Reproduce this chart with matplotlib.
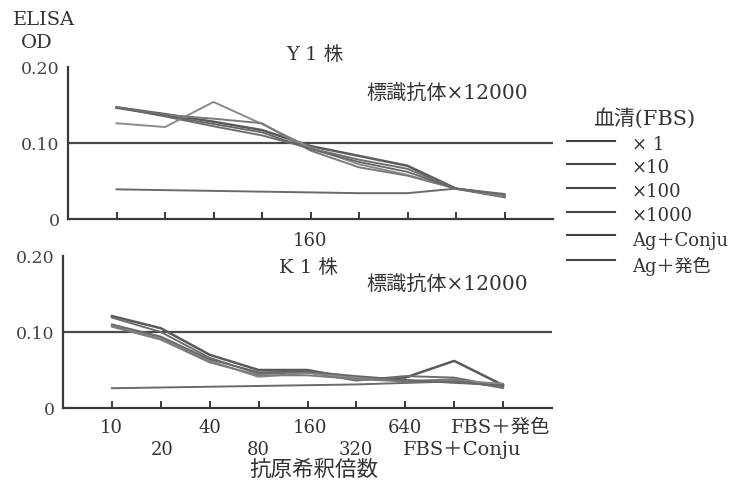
import matplotlib
matplotlib.use("Agg")
import matplotlib.pyplot as plt
from matplotlib.lines import Line2D

plt.rcParams['font.family'] = ['DejaVu Serif', 'Noto Sans CJK JP']

# Antigen dilution steps plus the two controls
x_labels = ["10", "20", "40", "80", "160", "320", "640", "FBS＋Conju", "FBS＋発色"]
series_names = ["× 1", "×10", "×100", "×1000", "Ag＋Conju", "Ag＋発色"]

# Y1 strain, labelled antibody ×12000
y1_x1 = [0.147, 0.138, 0.128, 0.117, 0.096, 0.083, 0.070, 0.040, 0.029]
y1_x10 = [0.147, 0.135, 0.122, 0.110, 0.093, 0.078, 0.066, 0.040, 0.031]
y1_x100 = [0.126, 0.121, 0.154, 0.125, 0.094, 0.072, 0.058, 0.040, 0.030]
y1_x1000 = [0.147, 0.137, 0.132, 0.126, 0.090, 0.068, 0.057, 0.040, 0.033]
y1_ag_conju = [0.146, 0.136, 0.125, 0.114, 0.092, 0.075, 0.062, 0.040, 0.032]
y1_ag_color = [0.039, 0.038, 0.037, 0.036, 0.035, 0.034, 0.034, 0.040, 0.032]

# K1 strain, labelled antibody ×12000
k1_x1 = [0.121, 0.105, 0.070, 0.050, 0.050, 0.038, 0.040, 0.062, 0.030]
k1_x10 = [0.119, 0.100, 0.066, 0.045, 0.047, 0.036, 0.042, 0.040, 0.028]
k1_x100 = [0.108, 0.092, 0.062, 0.041, 0.046, 0.040, 0.036, 0.036, 0.032]
k1_x1000 = [0.107, 0.090, 0.060, 0.043, 0.043, 0.038, 0.035, 0.038, 0.026]
k1_ag_conju = [0.110, 0.094, 0.064, 0.047, 0.048, 0.042, 0.037, 0.033, 0.030]
k1_ag_color = [0.026, 0.027, 0.028, 0.029, 0.030, 0.031, 0.033, 0.035, 0.028]

cutoff = 0.10

panels = [
    ("Y 1 株", [y1_x1, y1_x10, y1_x100, y1_x1000, y1_ag_conju, y1_ag_color]),
    ("K 1 株", [k1_x1, k1_x10, k1_x100, k1_x1000, k1_ag_conju, k1_ag_color]),
]
line_colors = ["#5a5a5a", "#6e6e6e", "#8a8a8a", "#7a7a7a", "#666666", "#6a6a6a"]
line_widths = [1.8, 1.4, 1.4, 1.4, 1.3, 1.4]

W, H = 744, 485
fig = plt.figure(figsize=(W / 100, H / 100), dpi=100)

axes_px = [
    (68, 553, 68, 220),   # left, right, top, bottom in pixels
    (63, 552, 257, 409),
]

ink = "#3a3a3a"
xs = list(range(len(x_labels)))

for (title, data), (l, r, t, b) in zip(panels, axes_px):
    ax = fig.add_axes([l / W, 1 - b / H, (r - l) / W, (b - t) / H])
    ax.set_xlim(-1, 9)
    ax.set_ylim(0, 0.20)
    for s in ["top", "right"]:
        ax.spines[s].set_visible(False)
    for s in ["left", "bottom"]:
        ax.spines[s].set_color(ink)
        ax.spines[s].set_linewidth(1.6)
    ax.axhline(cutoff, color="#4a4a4a", lw=1.6, zorder=2)
    for vals, c, lw in zip(data, line_colors, line_widths):
        ax.plot(xs, vals, color=c, lw=lw, zorder=3)
    ax.set_xticks(xs)
    ax.set_xticklabels([])
    ax.tick_params(axis="x", direction="in", length=5, width=1.4, color=ink)
    ax.set_yticks([0, 0.10, 0.20])
    ax.set_yticklabels(["0", "0.10", "0.20"])
    ax.tick_params(axis="y", length=0, pad=6, labelsize=12.5)
    ax.set_yticks([0.20], minor=True)
    ax.tick_params(axis="y", which="minor", direction="in", length=6, width=1.6, color=ink)
    for lab in ax.get_yticklabels():
        lab.set_color("#444444")

txt = dict(color="#333333")

def ftext(x, y, s, size=13, ha="center", va="center"):
    fig.text(x / W, 1 - y / H, s, fontsize=size, ha=ha, va=va, **txt)

ftext(44, 20, "ELISA", 14)
ftext(37, 43, "OD", 14)
ftext(315, 55, "Y 1 株", 14)
ftext(308, 268, "K 1 株", 14)
ftext(447, 93, "標識抗体×12000", 14.5)
ftext(447, 284, "標識抗体×12000", 14.5)
ftext(310, 241, "160", 13)

# bottom axis labels on two staggered rows
row1 = {0: 111, 2: 210, 4: 310, 6: 405, 8: 501}
row2 = {1: 162, 3: 258, 5: 356, 7: 462}
for i, px in row1.items():
    ftext(px, 428, x_labels[i], 14 if i >= 7 else 13)
for i, px in row2.items():
    ftext(px, 450, x_labels[i], 14 if i >= 7 else 13)
ftext(314, 470, "抗原希釈倍数", 15.5)

# legend
ftext(644, 118, "血清(FBS)", 15)
line_y = [142, 165, 189, 213, 236, 261]
label_y = [145, 168, 192, 216, 241, 266]
for name, ly, ty in zip(series_names, line_y, label_y):
    fig.add_artist(Line2D([567 / W, 615 / W], [1 - ly / H, 1 - ly / H],
                          color="#444444", lw=1.5, transform=fig.transFigure))
    ftext(632, ty, name, 13, ha="left")

fig.savefig("out.png", dpi=100, facecolor="white")
